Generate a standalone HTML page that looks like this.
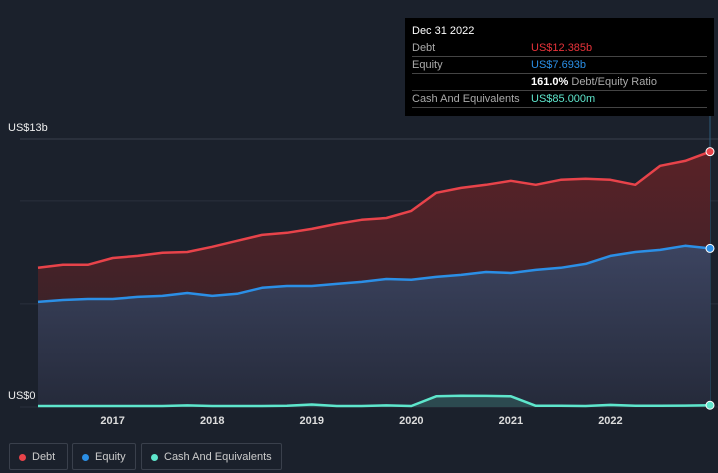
<!DOCTYPE html>
<html><head><meta charset="utf-8"><style>
body{margin:0;width:718px;height:473px;background:#1b212c;font-family:"Liberation Sans",sans-serif;overflow:hidden;position:relative}
.tt{position:absolute;left:405px;top:18px;width:309px;height:98px;background:#000;color:#fff;font-size:11px}
.row{position:absolute;left:7px;right:7px;border-bottom:1px solid #444;height:16px;line-height:16px}
.row .k{position:absolute;left:0;color:#aaa}.row .v{position:absolute;left:119px}
.leg{position:absolute;top:443px;height:27px;border:1px solid #3a404c;border-radius:2px;color:#ccc;font-size:11px;line-height:27px;box-sizing:border-box;padding-left:22px}
.leg i{position:absolute;left:9px;top:10px;width:7px;height:7px;border-radius:50%}
</style></head><body>
<svg id="c" width="718" height="473" style="position:absolute;left:0;top:0">
<defs>
<linearGradient id="gd" x1="0" y1="0" x2="0" y2="1"><stop offset="0" stop-color="#5a2227"/><stop offset="1" stop-color="#2a2329"/></linearGradient>
<linearGradient id="ge" x1="0" y1="0" x2="0" y2="1"><stop offset="0" stop-color="#3c4460"/><stop offset="1" stop-color="#252a3a"/></linearGradient>
</defs>
<g id="grid"></g><g id="areas"></g><g id="lines"></g><g id="xt"></g>
</svg>
<div class="tt">
<div style="position:absolute;left:7px;top:7px;font-size:11px">Dec 31 2022</div>
<div class="row" style="top:22px"><span class="k">Debt</span><span class="v" style="color:#e8333a">US$12.385b</span></div>
<div class="row" style="top:39px"><span class="k">Equity</span><span class="v" style="color:#2b8fe6">US$7.693b</span></div>
<div class="row" style="top:56px"><span class="v"><b>161.0%</b> <span style="color:#aaa">Debt/Equity Ratio</span></span></div>
<div class="row" style="top:73px"><span class="k">Cash And Equivalents</span><span class="v" style="color:#5ee6cc">US$85.000m</span></div>
</div>
<div class="leg" style="left:9px;width:59px"><i style="background:#e8434a"></i>Debt</div>
<div class="leg" style="left:72px;width:64px"><i style="background:#2b8fe6"></i>Equity</div>
<div class="leg" style="left:141px;width:141px"><i style="background:#5ee6cc"></i>Cash And Equivalents</div>
<script>
const times=[];for(let i=0;i<28;i++)times.push(2016.25+i*0.25);
const debt=[6.75,6.9,6.9,7.23,7.33,7.48,7.52,7.77,8.06,8.35,8.45,8.64,8.88,9.08,9.17,9.51,10.39,10.63,10.78,10.97,10.78,11.02,11.07,11.02,10.78,11.7,11.94,12.385];
const equity=[5.1,5.19,5.24,5.24,5.34,5.39,5.53,5.39,5.49,5.78,5.87,5.87,5.97,6.07,6.21,6.17,6.31,6.41,6.55,6.5,6.65,6.75,6.94,7.33,7.52,7.62,7.82,7.693];
const cash=[0.05,0.05,0.05,0.05,0.05,0.05,0.08,0.05,0.05,0.05,0.06,0.12,0.05,0.05,0.08,0.05,0.52,0.55,0.54,0.52,0.06,0.06,0.05,0.1,0.06,0.06,0.07,0.085];
const yTicks=[0,5,10,13];
const yTickLabels={0:"US$0",13:"US$13b"};
const xTicks=[2017,2018,2019,2020,2021,2022];
const X=t=>38+(t-2016.25)*(672/6.75), Y=v=>407-v*(268/13);
const NS="http://www.w3.org/2000/svg";
function mk(tag,at,par,name){const e=document.createElementNS(NS,tag);for(const k in at)e.setAttribute(k,at[k]);


document.getElementById(par).appendChild(e);return e;}
yTicks.forEach(v=>{mk('line',{x1:20,x2:718,y1:Y(v),y2:Y(v),stroke:v==13?'#3a404c':'#2a303c','stroke-width':1},'grid','gridline');
if(yTickLabels[v]!==undefined){const t=mk('text',{x:8,y:Y(v)-8,fill:'#eee','font-size':11},'grid','y-tick-label');t.textContent=yTickLabels[v];}});
mk('line',{x1:X(2023),x2:X(2023),y1:116,y2:407,stroke:'#2c5a7a','stroke-width':1},'grid','hover-line');
function path(arr){return arr.map((v,i)=>(i?'L':'M')+X(times[i]).toFixed(1)+','+Y(v).toFixed(1)).join('');}
function area(arr){return path(arr)+'L'+X(times[times.length-1])+','+Y(0)+'L'+X(times[0])+','+Y(0)+'Z';}
mk('path',{d:area(debt),fill:'url(#gd)'},'areas','debt-area');
mk('path',{d:area(equity),fill:'url(#ge)'},'areas','equity-area');
mk('path',{d:area(cash),fill:'#2c4a50'},'areas','cash-area');
[[debt,'#e8434a','debt'],[equity,'#2b8fe6','equity'],[cash,'#5ee6cc','cash']].forEach(([a,c,n])=>{
mk('path',{d:path(a),fill:'none',stroke:c,'stroke-width':2.5,'stroke-linejoin':'round'},'lines',n+'-line');
mk('circle',{cx:X(times[times.length-1]),cy:Y(a[a.length-1]),r:4,fill:c,stroke:'#fff','stroke-width':1},'lines',n+'-end-point');});
xTicks.forEach(y=>{const t=mk('text',{x:X(y),y:424,fill:'#ddd','font-size':11,'font-weight':'bold','text-anchor':'middle'},'xt','x-tick-label');t.textContent=y;});
</script>
</body></html>
